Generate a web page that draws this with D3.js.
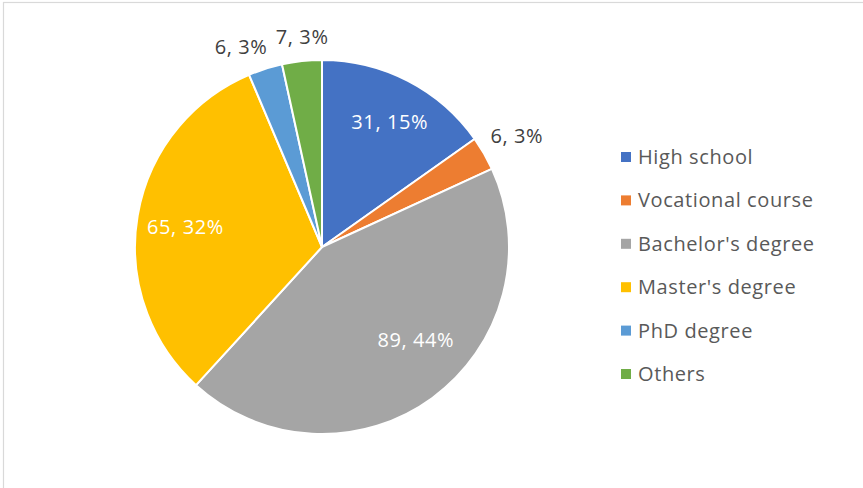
<!DOCTYPE html>
<html>
<head>
<meta charset="utf-8">
<script src="https://cdn.jsdelivr.net/npm/d3@7"></script>
<style>
  html, body { margin: 0; padding: 0; background: #fff; }
  svg { display: block; }
  text { font-family: "Open Sans", "Noto Sans", sans-serif; }
</style>
</head>
<body>
<svg id="chart" width="863" height="488"></svg>
<script>
// Education level of respondents
const categories = ["High school", "Vocational course", "Bachelor's degree", "Master's degree", "PhD degree", "Others"];
const counts = [31, 6, 89, 65, 6, 7];
const colors = ["#4472C4", "#ED7D31", "#A5A5A5", "#FFC000", "#5B9BD5", "#70AD47"];

// Label placement (polar: angle in degrees clockwise from 12 o'clock, radius in px)
const labelAngle = [28.5, 60.4, 134.7, 278.3, 338, 354.6];
const labelRadius = [142, 224, 132, 138, 216, 211];
const labelInside = [true, false, true, true, false, false];

const W = 863, H = 488;
const cx = 322, cy = 247, R = 187;

const svg = d3.select("#chart");

// chart area frame
svg.append("rect")
  .attr("x", 3.5).attr("y", 2.5)
  .attr("width", W + 20).attr("height", H + 20)
  .attr("fill", "#fff")
  .attr("stroke", "#d9d9d9").attr("stroke-width", 1.2);

const total = d3.sum(counts);
const data = categories.map((c, i) => ({ name: c, value: counts[i], i }));

const pie = d3.pie().value(d => d.value).sort(null);
const arc = d3.arc().innerRadius(0).outerRadius(R);
const arcs = pie(data);

const g = svg.append("g").attr("transform", `translate(${cx},${cy})`);

g.selectAll("path.slice")
  .data(arcs)
  .join("path")
  .attr("class", "slice")
  .attr("d", arc)
  .attr("fill", d => colors[d.data.i])
  .attr("stroke", "#fff")
  .attr("stroke-width", 2)
  .attr("stroke-linejoin", "round");

// data labels: "value, percent"
g.selectAll("text.lbl")
  .data(arcs)
  .join("text")
  .attr("class", "lbl")
  .attr("x", d => labelRadius[d.data.i] * Math.sin(labelAngle[d.data.i] * Math.PI / 180))
  .attr("y", d => -labelRadius[d.data.i] * Math.cos(labelAngle[d.data.i] * Math.PI / 180))
  .attr("dy", "0.35em")
  .attr("text-anchor", "middle")
  .attr("font-size", 20)
  .attr("letter-spacing", 0.6)
  .attr("fill", d => labelInside[d.data.i] ? "#ffffff" : "#404040")
  .text(d => `${d.data.value}, ${Math.round(d.data.value / total * 100)}%`);

// legend
const legend = svg.append("g").attr("transform", "translate(621,157)");
const rowY = d3.scalePoint().domain(categories).range([0, 217]);
const rows = legend.selectAll("g.row")
  .data(data)
  .join("g")
  .attr("class", "row")
  .attr("transform", d => `translate(0,${rowY(d.name)})`);
rows.append("rect")
  .attr("x", 0).attr("y", -5)
  .attr("width", 10).attr("height", 10)
  .attr("fill", d => colors[d.i]);
rows.append("text")
  .attr("x", 17).attr("y", 0)
  .attr("dy", "0.35em")
  .attr("font-size", 20)
  .attr("letter-spacing", 0.6)
  .attr("fill", "#595959")
  .text(d => d.name);
</script>
</body>
</html>
